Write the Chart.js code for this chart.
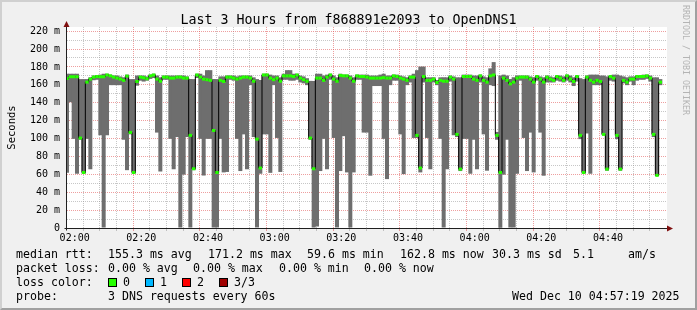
<!DOCTYPE html>
<html>
<head>
<meta charset="utf-8">
<script src="https://cdn.jsdelivr.net/npm/chart.js@4.4.1/dist/chart.umd.min.js"></script>
<style>
html,body{margin:0;padding:0;background:#f0f0f0;}
#wrap{position:relative;width:697px;height:310px;overflow:hidden;background:#f0f0f0;}
#c{position:absolute;left:0;top:0;}
.t{position:absolute;font-family:"DejaVu Sans Mono",monospace;font-size:11.6px;color:#000;white-space:pre;line-height:14px;}
#title{position:absolute;left:0;top:12px;width:697px;text-align:center;font-family:"DejaVu Sans Mono",monospace;font-size:13.3px;line-height:16px;color:#000;white-space:pre;}
#rrd{position:absolute;left:681px;top:5px;writing-mode:vertical-rl;font-family:"DejaVu Sans Mono",monospace;font-size:8.3px;line-height:9px;color:#b4b4b4;white-space:pre;}
.sw{position:absolute;width:9px;height:9px;box-sizing:border-box;border:1px solid #000;}
#frame{position:absolute;left:0;top:0;width:697px;height:310px;box-sizing:border-box;border-style:solid;border-width:2px;border-color:#d0d0d0 #a0a0a0 #a0a0a0 #d0d0d0;pointer-events:none;}
</style>
</head>
<body>
<div id="wrap">
  <canvas id="c" width="697" height="310"></canvas>
  <div id="title">Last 3 Hours from f868891e2093 to OpenDNS1</div>
  <div id="rrd">RRDTOOL / TOBI OETIKER</div>

  <div class="t" style="left:16px;top:247px;">median rtt:</div>
  <div class="t" style="left:108px;top:247px;">155.3 ms avg</div>
  <div class="t" style="left:208px;top:247px;">171.2 ms max</div>
  <div class="t" style="left:307px;top:247px;">59.6 ms min</div>
  <div class="t" style="left:400px;top:247px;">162.8 ms now</div>
  <div class="t" style="left:492px;top:247px;">30.3 ms sd</div>
  <div class="t" style="left:573px;top:247px;">5.1</div>
  <div class="t" style="left:628px;top:247px;">am/s</div>

  <div class="t" style="left:16px;top:261px;">packet loss:</div>
  <div class="t" style="left:108px;top:261px;">0.00 % avg</div>
  <div class="t" style="left:193px;top:261px;">0.00 % max</div>
  <div class="t" style="left:279px;top:261px;">0.00 % min</div>
  <div class="t" style="left:364px;top:261px;">0.00 % now</div>

  <div class="t" style="left:16px;top:275px;">loss color:</div>
  <div class="sw" style="left:108px;top:278px;background:#26ff00;"></div>
  <div class="t" style="left:123px;top:275px;">0</div>
  <div class="sw" style="left:145px;top:278px;background:#00b8ff;"></div>
  <div class="t" style="left:160px;top:275px;">1</div>
  <div class="sw" style="left:182px;top:278px;background:#ff0000;"></div>
  <div class="t" style="left:197px;top:275px;">2</div>
  <div class="sw" style="left:219px;top:278px;background:#a00000;"></div>
  <div class="t" style="left:234px;top:275px;">3/3</div>

  <div class="t" style="left:16px;top:289px;">probe:</div>
  <div class="t" style="left:108px;top:289px;">3 DNS requests every 60s</div>
  <div class="t" style="left:512px;top:289px;">Wed Dec 10 04:57:19 2025</div>
  <div id="frame"></div>
</div>
<script>
// ---- data (ms), one sample per minute ----
const medianRtt = [
167,169,169,169,100.5,62,163,166.4,168.6,169.3,
169,169,171,170,168.6,167.5,166.4,165,169.7,106.8,
62,163.7,168.6,167.9,166.8,170,171,166.4,164,168.6,
168.6,167.5,167.5,168.6,168.6,167.5,167.5,103.5,66.2,171,
168.6,166.4,165.7,165,109,62,165,163.7,168.6,168.6,
167.5,166.4,167.5,168.6,168.6,167.5,164,99.3,67,171,
171,167.5,165.7,167.5,164,170,170,170,169.3,171,
167.5,165.7,164,100.5,66.2,167.5,167.5,165,168.6,171,
166.4,164,170.5,170,170,167.5,164,170,169.3,169.3,
168.6,167.5,167.5,167.5,167.5,168,167.5,167.5,170,169.3,
167.5,166.4,165,168.6,168.6,103.5,67,169.3,165,165,
166.4,162.6,165,164,164,168.6,166.4,104.6,65.8,169.3,
169.3,169.3,166.4,165,170,165,163,170,171,103.5,
62,167.5,165,161,163,167.5,168.6,168.6,168.6,166.4,
163,169.3,166.4,163,168.6,166.4,165,169.3,167.5,165,
170,166.4,163.7,169.3,103.5,62,168.6,165,163,165,
163.7,104.6,65.8,169.3,167.5,103.5,65.8,165,163,166.4,
166.4,169.3,169.3,169.3,170,167.5,104.6,58.8,163
];
const minRtt = [
62,141,100,61,99,61,100,66,165.5,166,
104,1,104,160,160,160,160,99,65,105,
61,159.4,165,164,165,167,168,107,63.5,166,
166,100,66,102,1,60,102,1,65,168,
100,59,100,100,1,1,100,62.5,63,166,
165,100,64,105,66,160,102,1,61,105,
105,62,160,101,63,166,166,165,165,166,
163,162,160,99,1,2,64,100,66,166,
101,1,64,103,62.5,1,62.5,166,166,107,
107,58.8,159,159,159,100,55,160,165,165,
105,60.6,160,163,101,101,62.5,163,101,66,
163,160,100,1,66,164,104,102,64,100,
100,61,99,66,163,105,64.4,160,159,99,
0,60,99,1,1,61,165,101,64,107,
62.5,165,107,58.8,163,163,163,165,164,163,
165,163,159,164,99.7,61,106,61,160,160,
160,104,64.4,165,164,99.7,64.4,162,160,164,
160,165,166,166,167,164,102,58.5,160
];
const maxRtt = [
172,172,172,172,166,166,166,168,170,170.5,
171,172,172,171,170,170,169,168,171,166,
166,170,170,170,169,171,172,170,168,170,
170,170,170,170,170,170,169,166,166,172,
172,170,176,176,166,166,169,169,170,170,
170,169,170,170,170,170,168,166,165,172,
172,171,170,170,168,172,176,176,172,172,
170,169,167,164,164,172,172,170,171,172,
170,168,172,171,171,170,168,171,171,171,
171,170,170,170,171,172,170,170,171,171,
170,169,168,170,172,176,180,180,168,168,
168,165,168,168,168,170,169,168,168,171,
171,171,170,170,171,169,168,178,185,107,
170,171,170,166,168,170,170,170,170,169,
168,170,169,168,170,169,168,170,170,169,
171,170,168,170,167,166,170,171,171,171,
170,170,169,170,171,171,170,169,168,169,
169,170,170,171,171,170,168,168,166
];
// first sample time, in minutes relative to 02:00
const firstSampleMinute = -2.3;
const windowMinutes = 180;
const xTickLabels = ['02:00','02:20','02:40','03:00','03:20','03:40','04:00','04:20','04:40'];
const yTickLabels = ['0','20 m','40 m','60 m','80 m','100 m','120 m','140 m','160 m','180 m','200 m','220 m'];
const yMax = 224.6;

const GRID = 'rgba(144,144,144,0.5)';
const MGRID = 'rgba(224,80,80,0.55)';
const AXIS = '#202020';
const ARROW = '#801010';
const FONT = 'DejaVu Sans Mono';

const smokeData = minRtt.map((v, i) => ({x: firstSampleMinute + i, y: [v, maxRtt[i]]}));
const medianData = medianRtt.map((v, i) => ({x: firstSampleMinute + i, y: v}));

function tickVal(c) {
  return (c && c.tick) ? Math.round(c.tick.value * 1000) / 1000 : null;
}
function xGridColor(c) {
  const v = tickVal(c);
  if (v === null) return 'transparent';
  return v % 20 === 0 ? MGRID : GRID;
}
function yGridColor(c) {
  const v = tickVal(c);
  if (v === null || v === 0 || v % 10 !== 0) return 'transparent';
  return v % 20 === 0 ? MGRID : GRID;
}

const plotBg = {
  id: 'plotBg',
  beforeDraw(chart) {
    const {ctx, chartArea: a} = chart;
    ctx.save();
    ctx.fillStyle = '#ffffff';
    ctx.fillRect(a.left, a.top, a.right - a.left, a.bottom - a.top);
    ctx.restore();
  }
};
const axes = {
  id: 'axes',
  afterDraw(chart) {
    const {ctx, chartArea: a} = chart;
    ctx.save();
    const lx = Math.round(a.left) - 0.5;
    const by = Math.round(a.bottom) + 0.5;
    ctx.strokeStyle = AXIS;
    ctx.lineWidth = 1;
    ctx.setLineDash([]);
    ctx.beginPath();
    ctx.moveTo(lx, by + 2);
    ctx.lineTo(lx, a.top - 1);
    ctx.moveTo(lx - 2, by);
    ctx.lineTo(a.right + 1, by);
    ctx.stroke();
    ctx.fillStyle = ARROW;
    ctx.beginPath();
    ctx.moveTo(lx, a.top - 6);
    ctx.lineTo(lx - 3, a.top);
    ctx.lineTo(lx + 3, a.top);
    ctx.closePath();
    ctx.fill();
    ctx.beginPath();
    ctx.moveTo(a.right + 6, by);
    ctx.lineTo(a.right, by - 3);
    ctx.lineTo(a.right, by + 3);
    ctx.closePath();
    ctx.fill();
    ctx.restore();
  }
};

new Chart(document.getElementById('c'), {
  type: 'bar',
  data: {
    datasets: [
      {
        type: 'line',
        label: 'median',
        data: medianData,
        order: 0,
        stepped: 'middle',
        borderColor: '#000000',
        borderWidth: 1,
        pointStyle: 'line',
        pointRadius: 1.7,
        pointHoverRadius: 1.7,
        pointBorderWidth: 3,
        pointBorderColor: '#26ff00',
        pointBackgroundColor: '#26ff00',
        fill: false
      },
      {
        type: 'bar',
        label: 'smoke',
        data: smokeData,
        order: 1,
        backgroundColor: '#6e6e6e',
        borderWidth: 0,
        barPercentage: 1,
        categoryPercentage: 1,
        grouped: false
      }
    ]
  },
  options: {
    responsive: false,
    animation: false,
    events: [],
    layout: {padding: {left: 0, top: 27, right: 30, bottom: 60}},
    plugins: {legend: {display: false}, tooltip: {enabled: false}, title: {display: false}},
    scales: {
      x: {
        type: 'linear',
        offset: false,
        min: firstSampleMinute,
        max: firstSampleMinute + windowMinutes,
        afterBuildTicks: (s) => {
          const t = [];
          for (let m = 0; m <= 175; m += 5) t.push({value: m});
          s.ticks = t;
        },
        afterFit: (s) => { s.height = 22; },
        grid: {
          z: 0,
          color: xGridColor,
          tickColor: xGridColor,
          lineWidth: 1,
          drawTicks: true,
          tickLength: 3
        },
        border: {display: false, dash: [1, 1]},
        ticks: {
          autoSkip: false,
          maxRotation: 0,
          minRotation: 0,
          padding: 1,
          color: '#000',
          font: {family: FONT, size: 10},
          callback: (v) => (Math.round(v) % 20 === 0 ? xTickLabels[Math.round(v) / 20] : '')
        }
      },
      y: {
        type: 'linear',
        min: 0,
        max: yMax,
        afterBuildTicks: (s) => {
          const t = [];
          for (let v = 0; v <= 220; v += 10) t.push({value: v});
          s.ticks = t;
        },
        afterFit: (s) => { s.width = 67; },
        grid: {
          z: 0,
          drawTicks: false,
          color: yGridColor,
          lineWidth: 1
        },
        border: {display: false, dash: [1, 1]},
        ticks: {
          autoSkip: false,
          padding: 7,
          color: '#000',
          font: {family: FONT, size: 10},
          callback: (v) => {
            const r = Math.round(v * 1000) / 1000;
            return r % 20 === 0 ? yTickLabels[r / 20] : '';
          }
        },
        title: {
          display: true,
          text: 'Seconds',
          color: '#000',
          font: {family: FONT, size: 10.5},
          padding: {top: 6, bottom: 0}
        }
      }
    }
  },
  plugins: [plotBg, axes]
});
</script>
</body>
</html>
